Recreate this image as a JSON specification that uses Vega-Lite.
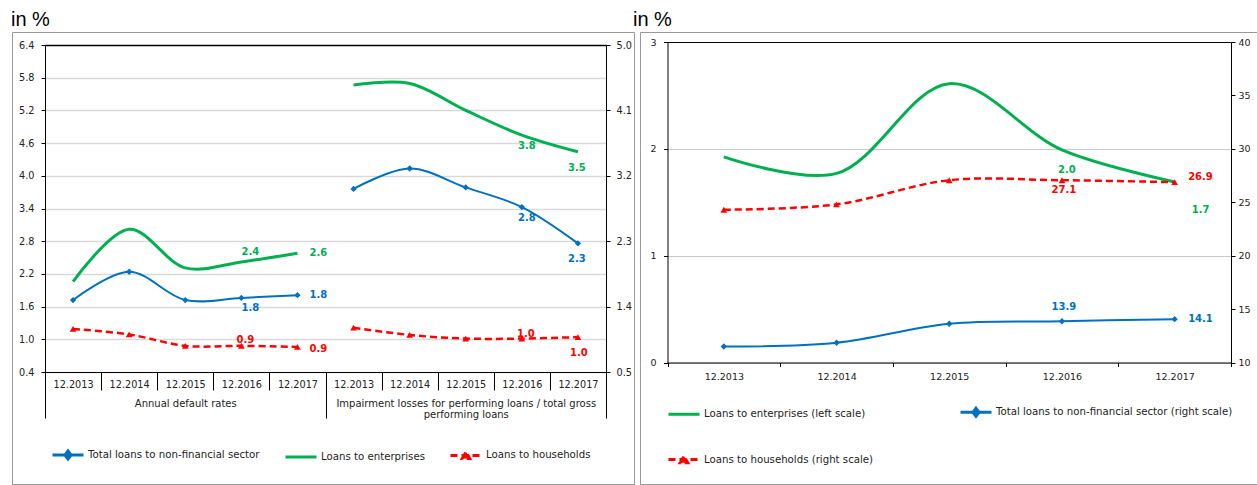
{
  "$schema": "https://vega.github.io/schema/vega-lite/v6.json",
  "background": "white",
  "padding": {"left": 10, "top": 9, "right": 0, "bottom": 0},
  "bounds": "flush",
  "spacing": 6,
  "datasets": {
    "left": [
      {"cat": "A 12.2013", "grp": "A", "series": "Total loans to non-financial sector", "value": 1.72},
      {"cat": "A 12.2014", "grp": "A", "series": "Total loans to non-financial sector", "value": 2.24},
      {"cat": "A 12.2015", "grp": "A", "series": "Total loans to non-financial sector", "value": 1.72},
      {"cat": "A 12.2016", "grp": "A", "series": "Total loans to non-financial sector", "value": 1.76},
      {"cat": "A 12.2017", "grp": "A", "series": "Total loans to non-financial sector", "value": 1.81},
      {"cat": "A 12.2013", "grp": "A", "series": "Loans to enterprises", "value": 2.06},
      {"cat": "A 12.2014", "grp": "A", "series": "Loans to enterprises", "value": 3.02},
      {"cat": "A 12.2015", "grp": "A", "series": "Loans to enterprises", "value": 2.31},
      {"cat": "A 12.2016", "grp": "A", "series": "Loans to enterprises", "value": 2.42},
      {"cat": "A 12.2017", "grp": "A", "series": "Loans to enterprises", "value": 2.58},
      {"cat": "A 12.2013", "grp": "A", "series": "Loans to households", "value": 1.19},
      {"cat": "A 12.2014", "grp": "A", "series": "Loans to households", "value": 1.09},
      {"cat": "A 12.2015", "grp": "A", "series": "Loans to households", "value": 0.88},
      {"cat": "A 12.2016", "grp": "A", "series": "Loans to households", "value": 0.88},
      {"cat": "A 12.2017", "grp": "A", "series": "Loans to households", "value": 0.86},
      {"cat": "I 12.2013", "grp": "I", "series": "Total loans to non-financial sector", "value": 3.02},
      {"cat": "I 12.2014", "grp": "I", "series": "Total loans to non-financial sector", "value": 3.30},
      {"cat": "I 12.2015", "grp": "I", "series": "Total loans to non-financial sector", "value": 3.04},
      {"cat": "I 12.2016", "grp": "I", "series": "Total loans to non-financial sector", "value": 2.77},
      {"cat": "I 12.2017", "grp": "I", "series": "Total loans to non-financial sector", "value": 2.27},
      {"cat": "I 12.2013", "grp": "I", "series": "Loans to enterprises", "value": 4.45},
      {"cat": "I 12.2014", "grp": "I", "series": "Loans to enterprises", "value": 4.47},
      {"cat": "I 12.2015", "grp": "I", "series": "Loans to enterprises", "value": 4.10},
      {"cat": "I 12.2016", "grp": "I", "series": "Loans to enterprises", "value": 3.76},
      {"cat": "I 12.2017", "grp": "I", "series": "Loans to enterprises", "value": 3.53},
      {"cat": "I 12.2013", "grp": "I", "series": "Loans to households", "value": 1.11},
      {"cat": "I 12.2014", "grp": "I", "series": "Loans to households", "value": 1.01},
      {"cat": "I 12.2015", "grp": "I", "series": "Loans to households", "value": 0.96},
      {"cat": "I 12.2016", "grp": "I", "series": "Loans to households", "value": 0.96},
      {"cat": "I 12.2017", "grp": "I", "series": "Loans to households", "value": 0.98}
    ],
    "groups": [
      {"grp": "Annual default rates"},
      {"grp": "Impairment losses for performing loans / total gross performing loans"}
    ],
    "right": [
      {"cat": "12.2013", "series": "Loans to enterprises (left scale)", "value": 1.925},
      {"cat": "12.2014", "series": "Loans to enterprises (left scale)", "value": 1.77},
      {"cat": "12.2015", "series": "Loans to enterprises (left scale)", "value": 2.61},
      {"cat": "12.2016", "series": "Loans to enterprises (left scale)", "value": 1.99},
      {"cat": "12.2017", "series": "Loans to enterprises (left scale)", "value": 1.69},
      {"cat": "12.2013", "series": "Total loans to non-financial sector (right scale)", "value": 11.5},
      {"cat": "12.2014", "series": "Total loans to non-financial sector (right scale)", "value": 11.85},
      {"cat": "12.2015", "series": "Total loans to non-financial sector (right scale)", "value": 13.63},
      {"cat": "12.2016", "series": "Total loans to non-financial sector (right scale)", "value": 13.86},
      {"cat": "12.2017", "series": "Total loans to non-financial sector (right scale)", "value": 14.06},
      {"cat": "12.2013", "series": "Loans to households (right scale)", "value": 24.3},
      {"cat": "12.2014", "series": "Loans to households (right scale)", "value": 24.8},
      {"cat": "12.2015", "series": "Loans to households (right scale)", "value": 27.06},
      {"cat": "12.2016", "series": "Loans to households (right scale)", "value": 27.06},
      {"cat": "12.2017", "series": "Loans to households (right scale)", "value": 26.88}
    ]
  },
  "hconcat": [
    {
      "width": 622,
      "height": 452,
      "title": {"text": "in %", "anchor": "start", "frame": "group", "fontSize": 20, "font": "Liberation Sans", "fontWeight": "normal", "color": "#000", "baseline": "alphabetic", "offset": -14, "dx": -1},
      "data": {"name": "left"},
      "resolve": {"scale": {"x": "independent", "y": "independent"}, "axis": {"x": "independent", "y": "independent"}},
      "layer": [
        {
          "transform": [{"filter": "datum.grp == 'A'"}],
          "encoding": {
            "x": {"field": "cat", "type": "nominal",
              "scale": {"type": "band", "domain": ["A 12.2013", "A 12.2014", "A 12.2015", "A 12.2016", "A 12.2017", "I 12.2013", "I 12.2014", "I 12.2015", "I 12.2016", "I 12.2017"], "range": [33, 594], "paddingInner": 0, "paddingOuter": 0},
              "axis": {"orient": "bottom", "offset": -112, "title": null, "tickBand": "extent", "tickSize": 18, "labelPadding": -10.2, "labelExpr": "slice(datum.label, 2)", "labelAngle": 0, "labelFontSize": 9.7, "grid": false}},
            "y": {"field": "value", "type": "quantitative",
              "scale": {"domain": [0.4, 6.4], "range": [340, 13], "nice": false, "zero": false},
              "axis": {"orient": "left", "offset": -33, "title": null, "values": [0.4, 1, 1.6, 2.2, 2.8, 3.4, 4, 4.6, 5.2, 5.8, 6.4], "format": ".1f", "tickSize": 4, "labelPadding": 7, "labelFontSize": 9.7, "grid": true, "gridWidth": 1.5, "gridColor": {"condition": {"test": "datum.value > 6.3", "value": "#000"}, "value": "#d9d9d9"}}}
          },
          "layer": [
            {"transform": [{"filter": "datum.series == 'Loans to enterprises'"}], "mark": {"type": "line", "interpolate": "catmull-rom", "color": "#00B050", "strokeWidth": 3}},
            {"transform": [{"filter": "datum.series == 'Total loans to non-financial sector'"}], "mark": {"type": "line", "interpolate": "catmull-rom", "color": "#0070C0", "strokeWidth": 2}},
            {"transform": [{"filter": "datum.series == 'Loans to households'"}], "mark": {"type": "line", "interpolate": "catmull-rom", "color": "#FF0000", "strokeWidth": 2.5, "strokeDash": [7, 4]}},
            {"transform": [{"filter": "datum.series == 'Total loans to non-financial sector'"}], "mark": {"type": "point", "shape": "diamond", "filled": true, "color": "#0070C0", "size": 40, "opacity": 1}},
            {"transform": [{"filter": "datum.series == 'Loans to households'"}], "mark": {"type": "point", "shape": "triangle-up", "filled": true, "color": "#FF0000", "size": 45, "opacity": 1}},
            {"transform": [{"filter": "datum.cat == 'A 12.2016' && datum.series == 'Loans to enterprises'"}],
              "mark": {"type": "text", "dx": 9, "dy": -10, "font": "DejaVu Sans", "fontWeight": "bold", "fontSize": 10, "color": "#00B050"},
              "encoding": {"text": {"field": "value", "type": "quantitative", "format": ".1f"}}},
            {"transform": [{"filter": "datum.cat == 'A 12.2016' && datum.series == 'Total loans to non-financial sector'"}],
              "mark": {"type": "text", "dx": 9, "dy": 10, "font": "DejaVu Sans", "fontWeight": "bold", "fontSize": 10, "color": "#0070C0"},
              "encoding": {"text": {"field": "value", "type": "quantitative", "format": ".1f"}}},
            {"transform": [{"filter": "datum.cat == 'A 12.2016' && datum.series == 'Loans to households'"}],
              "mark": {"type": "text", "dx": 4, "dy": -6, "font": "DejaVu Sans", "fontWeight": "bold", "fontSize": 10, "color": "#FF0000"},
              "encoding": {"text": {"field": "value", "type": "quantitative", "format": ".1f"}}},
            {"transform": [{"filter": "datum.cat == 'A 12.2017' && datum.series == 'Loans to enterprises'"}],
              "mark": {"type": "text", "align": "left", "dx": 12, "dy": 0, "font": "DejaVu Sans", "fontWeight": "bold", "fontSize": 10, "color": "#00B050"},
              "encoding": {"text": {"field": "value", "type": "quantitative", "format": ".1f"}}},
            {"transform": [{"filter": "datum.cat == 'A 12.2017' && datum.series == 'Total loans to non-financial sector'"}],
              "mark": {"type": "text", "align": "left", "dx": 12, "dy": 0, "font": "DejaVu Sans", "fontWeight": "bold", "fontSize": 10, "color": "#0070C0"},
              "encoding": {"text": {"field": "value", "type": "quantitative", "format": ".1f"}}},
            {"transform": [{"filter": "datum.cat == 'A 12.2017' && datum.series == 'Loans to households'"}],
              "mark": {"type": "text", "align": "left", "dx": 12, "dy": 2, "font": "DejaVu Sans", "fontWeight": "bold", "fontSize": 10, "color": "#FF0000"},
              "encoding": {"text": {"field": "value", "type": "quantitative", "format": ".1f"}}}
          ]
        },
        {
          "transform": [{"filter": "datum.grp == 'I'"}],
          "encoding": {
            "x": {"field": "cat", "type": "nominal",
              "scale": {"type": "band", "domain": ["A 12.2013", "A 12.2014", "A 12.2015", "A 12.2016", "A 12.2017", "I 12.2013", "I 12.2014", "I 12.2015", "I 12.2016", "I 12.2017"], "range": [33, 594], "paddingInner": 0, "paddingOuter": 0},
              "axis": null},
            "y": {"field": "value", "type": "quantitative",
              "scale": {"domain": [0.5, 5.0], "range": [340, 13], "nice": false, "zero": false},
              "axis": {"orient": "right", "offset": -28, "title": null, "values": [0.5, 1.4, 2.3, 3.2, 4.1, 5.0], "format": ".1f", "tickSize": 4, "labelPadding": 6, "labelFontSize": 9.7, "grid": false}}
          },
          "layer": [
            {"transform": [{"filter": "datum.series == 'Loans to enterprises'"}], "mark": {"type": "line", "interpolate": "catmull-rom", "color": "#00B050", "strokeWidth": 3}},
            {"transform": [{"filter": "datum.series == 'Total loans to non-financial sector'"}], "mark": {"type": "line", "interpolate": "catmull-rom", "color": "#0070C0", "strokeWidth": 2}},
            {"transform": [{"filter": "datum.series == 'Loans to households'"}], "mark": {"type": "line", "interpolate": "catmull-rom", "color": "#FF0000", "strokeWidth": 2.5, "strokeDash": [7, 4]}},
            {"transform": [{"filter": "datum.series == 'Total loans to non-financial sector'"}], "mark": {"type": "point", "shape": "diamond", "filled": true, "color": "#0070C0", "size": 40, "opacity": 1}},
            {"transform": [{"filter": "datum.series == 'Loans to households'"}], "mark": {"type": "point", "shape": "triangle-up", "filled": true, "color": "#FF0000", "size": 45, "opacity": 1}},
            {"transform": [{"filter": "datum.cat == 'I 12.2016' && datum.series == 'Loans to enterprises'"}],
              "mark": {"type": "text", "dx": 5, "dy": 10.5, "font": "DejaVu Sans", "fontWeight": "bold", "fontSize": 10, "color": "#00B050"},
              "encoding": {"text": {"field": "value", "type": "quantitative", "format": ".1f"}}},
            {"transform": [{"filter": "datum.cat == 'I 12.2016' && datum.series == 'Total loans to non-financial sector'"}],
              "mark": {"type": "text", "dx": 5, "dy": 10.5, "font": "DejaVu Sans", "fontWeight": "bold", "fontSize": 10, "color": "#0070C0"},
              "encoding": {"text": {"field": "value", "type": "quantitative", "format": ".1f"}}},
            {"transform": [{"filter": "datum.cat == 'I 12.2016' && datum.series == 'Loans to households'"}],
              "mark": {"type": "text", "dx": 4, "dy": -5, "font": "DejaVu Sans", "fontWeight": "bold", "fontSize": 10, "color": "#FF0000"},
              "encoding": {"text": {"field": "value", "type": "quantitative", "format": ".1f"}}},
            {"transform": [{"filter": "datum.cat == 'I 12.2017' && datum.series == 'Loans to enterprises'"}],
              "mark": {"type": "text", "dx": -1, "dy": 16, "font": "DejaVu Sans", "fontWeight": "bold", "fontSize": 10, "color": "#00B050"},
              "encoding": {"text": {"field": "value", "type": "quantitative", "format": ".1f"}}},
            {"transform": [{"filter": "datum.cat == 'I 12.2017' && datum.series == 'Total loans to non-financial sector'"}],
              "mark": {"type": "text", "dx": -1, "dy": 16, "font": "DejaVu Sans", "fontWeight": "bold", "fontSize": 10, "color": "#0070C0"},
              "encoding": {"text": {"field": "value", "type": "quantitative", "format": ".1f"}}},
            {"transform": [{"filter": "datum.cat == 'I 12.2017' && datum.series == 'Loans to households'"}],
              "mark": {"type": "text", "dx": 1, "dy": 16, "font": "DejaVu Sans", "fontWeight": "bold", "fontSize": 10, "color": "#FF0000"},
              "encoding": {"text": {"field": "value", "type": "quantitative", "format": ".1f"}}}
          ]
        },
        {
          "data": {"name": "groups"},
          "mark": {"type": "point", "opacity": 0},
          "encoding": {
            "x": {"field": "grp", "type": "nominal",
              "scale": {"type": "band", "domain": ["Annual default rates", "Impairment losses for performing loans / total gross performing loans"], "range": [33, 594], "paddingInner": 0, "paddingOuter": 0},
              "axis": {"orient": "bottom", "offset": -112, "title": null, "tickBand": "extent", "tickSize": 46, "labelPadding": -19.7, "labelAngle": 0, "labelFontSize": 10, "labelLimit": 400, "labelLineHeight": 11, "labelExpr": "datum.label == 'Impairment losses for performing loans / total gross performing loans' ? ['Impairment losses for performing loans / total gross', 'performing loans'] : datum.label", "grid": false}}
          }
        },
        {
          "transform": [{"filter": "datum.grp == 'A'"}],
          "mark": {"type": "point", "filled": true, "opacity": 0, "size": 1},
          "encoding": {
            "x": {"field": "cat", "type": "nominal",
              "scale": {"type": "band", "domain": ["A 12.2013", "A 12.2014", "A 12.2015", "A 12.2016", "A 12.2017", "I 12.2013", "I 12.2014", "I 12.2015", "I 12.2016", "I 12.2017"], "range": [33, 594], "paddingInner": 0, "paddingOuter": 0},
              "axis": null},
            "stroke": {"field": "series", "type": "nominal", "scale": {"domain": ["Total loans to non-financial sector", "Loans to enterprises", "Loans to households"], "range": ["#0070C0", "#00B050", "#FF0000"]},
              "legend": {"title": null, "orient": "none", "legendX": 39, "legendY": 405.5, "direction": "horizontal", "columns": 3, "columnPadding": 19, "symbolSize": 961, "symbolStrokeWidth": 3, "labelFont": "DejaVu Sans", "labelFontSize": 10.2, "labelColor": "#222", "labelLimit": 400, "labelOffset": 3, "symbolOpacity": 1, "padding": 0}},
            "fill": {"field": "series", "type": "nominal", "scale": {"domain": ["Total loans to non-financial sector", "Loans to enterprises", "Loans to households"], "range": ["#0070C0", "#00B050", "#FF0000"]},
              "legend": {"title": null, "orient": "none", "legendX": 39, "legendY": 405.5, "direction": "horizontal", "columns": 3, "columnPadding": 19, "symbolSize": 961, "symbolStrokeWidth": 3, "labelFont": "DejaVu Sans", "labelFontSize": 10.2, "labelColor": "#222", "labelLimit": 400, "labelOffset": 3, "symbolOpacity": 1, "padding": 0}},
            "shape": {"field": "series", "type": "nominal", "scale": {"domain": ["Total loans to non-financial sector", "Loans to enterprises", "Loans to households"], "range": ["M-1,0L1,0M0,-0.26L0.2,0L0,0.26L-0.2,0Z", "M-1,0L1,0", "M-1,0L1,0M-0.24,0.2L0,-0.22L0.24,0.2Z"]},
              "legend": {"title": null, "orient": "none", "legendX": 39, "legendY": 405.5, "direction": "horizontal", "columns": 3, "columnPadding": 19, "symbolSize": 961, "symbolStrokeWidth": 3, "labelFont": "DejaVu Sans", "labelFontSize": 10.2, "labelColor": "#222", "labelLimit": 400, "labelOffset": 3, "symbolOpacity": 1, "padding": 0}},
            "strokeDash": {"field": "series", "type": "nominal", "scale": {"domain": ["Total loans to non-financial sector", "Loans to enterprises", "Loans to households"], "range": [[1, 0], [1, 0], [7, 4]]},
              "legend": {"title": null, "orient": "none", "legendX": 39, "legendY": 405.5, "direction": "horizontal", "columns": 3, "columnPadding": 19, "symbolSize": 961, "symbolStrokeWidth": 3, "labelFont": "DejaVu Sans", "labelFontSize": 10.2, "labelColor": "#222", "labelLimit": 400, "labelOffset": 3, "symbolOpacity": 1, "padding": 0}}
          }
        }
      ]
    },
    {
      "width": 617,
      "height": 452,
      "title": {"text": "in %", "anchor": "start", "frame": "group", "fontSize": 20, "font": "Liberation Sans", "fontWeight": "normal", "color": "#000", "baseline": "alphabetic", "offset": -14, "dx": -7},
      "data": {"name": "right"},
      "resolve": {"scale": {"y": "independent"}, "axis": {"y": "independent"}},
      "encoding": {
        "x": {"field": "cat", "type": "nominal",
          "scale": {"type": "band", "domain": ["12.2013", "12.2014", "12.2015", "12.2016", "12.2017"], "range": [27.5, 591], "paddingInner": 0, "paddingOuter": 0},
          "axis": {"orient": "bottom", "offset": -121.5, "title": null, "tickBand": "extent", "tickSize": 4, "labelPadding": 4.9, "labelAngle": 0, "labelFontSize": 9.5, "grid": false}}
      },
      "layer": [
        {
          "transform": [{"filter": "datum.series == 'Loans to enterprises (left scale)'"}],
          "encoding": {
            "y": {"field": "value", "type": "quantitative",
              "scale": {"domain": [0, 3], "range": [330.5, 10], "nice": false, "zero": false},
              "axis": {"orient": "left", "offset": -27.5, "title": null, "values": [0, 1, 2, 3], "format": "d", "tickSize": 4, "labelPadding": 7.5, "labelFontSize": 9.5, "grid": true, "gridWidth": 1, "gridColor": {"condition": {"test": "datum.value > 2.9", "value": "#000"}, "value": "#c8c8c8"}}}
          },
          "layer": [
            {"mark": {"type": "line", "interpolate": "catmull-rom", "color": "#00B050", "strokeWidth": 3}},
            {"transform": [{"filter": "datum.cat == '12.2016'"}],
              "mark": {"type": "text", "dx": 5, "dy": 20, "font": "DejaVu Sans", "fontWeight": "bold", "fontSize": 10, "color": "#00B050"},
              "encoding": {"text": {"field": "value", "type": "quantitative", "format": ".1f"}}},
            {"transform": [{"filter": "datum.cat == '12.2017'"}],
              "mark": {"type": "text", "dx": 26, "dy": 28, "font": "DejaVu Sans", "fontWeight": "bold", "fontSize": 10, "color": "#00B050"},
              "encoding": {"text": {"field": "value", "type": "quantitative", "format": ".1f"}}}
          ]
        },
        {
          "transform": [{"filter": "datum.series != 'Loans to enterprises (left scale)'"}],
          "encoding": {
            "y": {"field": "value", "type": "quantitative",
              "scale": {"domain": [10, 40], "range": [330.5, 10], "nice": false, "zero": false},
              "axis": {"orient": "right", "offset": -26, "title": null, "values": [10, 15, 20, 25, 30, 35, 40], "format": "d", "tickSize": 4, "labelPadding": 3, "labelFontSize": 9.5, "grid": false}}
          },
          "layer": [
            {"transform": [{"filter": "datum.series == 'Total loans to non-financial sector (right scale)'"}], "mark": {"type": "line", "interpolate": "catmull-rom", "color": "#0070C0", "strokeWidth": 2}},
            {"transform": [{"filter": "datum.series == 'Loans to households (right scale)'"}], "mark": {"type": "line", "interpolate": "catmull-rom", "color": "#FF0000", "strokeWidth": 2.5, "strokeDash": [7, 4]}},
            {"transform": [{"filter": "datum.series == 'Total loans to non-financial sector (right scale)'"}], "mark": {"type": "point", "shape": "diamond", "filled": true, "color": "#0070C0", "size": 40, "opacity": 1}},
            {"transform": [{"filter": "datum.series == 'Loans to households (right scale)'"}], "mark": {"type": "point", "shape": "triangle-up", "filled": true, "color": "#FF0000", "size": 45, "opacity": 1}},
            {"transform": [{"filter": "datum.cat == '12.2016' && datum.series == 'Loans to households (right scale)'"}],
              "mark": {"type": "text", "dx": 2, "dy": 10, "font": "DejaVu Sans", "fontWeight": "bold", "fontSize": 10, "color": "#FF0000"},
              "encoding": {"text": {"field": "value", "type": "quantitative", "format": ".1f"}}},
            {"transform": [{"filter": "datum.cat == '12.2016' && datum.series == 'Total loans to non-financial sector (right scale)'"}],
              "mark": {"type": "text", "dx": 2, "dy": -14, "font": "DejaVu Sans", "fontWeight": "bold", "fontSize": 10, "color": "#0070C0"},
              "encoding": {"text": {"field": "value", "type": "quantitative", "format": ".1f"}}},
            {"transform": [{"filter": "datum.cat == '12.2017' && datum.series == 'Loans to households (right scale)'"}],
              "mark": {"type": "text", "align": "left", "dx": 13.5, "dy": -5, "font": "DejaVu Sans", "fontWeight": "bold", "fontSize": 10, "color": "#FF0000"},
              "encoding": {"text": {"field": "value", "type": "quantitative", "format": ".1f"}}},
            {"transform": [{"filter": "datum.cat == '12.2017' && datum.series == 'Total loans to non-financial sector (right scale)'"}],
              "mark": {"type": "text", "align": "left", "dx": 13.5, "dy": 0, "font": "DejaVu Sans", "fontWeight": "bold", "fontSize": 10, "color": "#0070C0"},
              "encoding": {"text": {"field": "value", "type": "quantitative", "format": ".1f"}}}
          ]
        },
        {
          "mark": {"type": "point", "filled": true, "opacity": 0, "size": 1},
          "encoding": {
            "stroke": {"field": "series", "type": "nominal", "scale": {"domain": ["Loans to enterprises (left scale)", "Total loans to non-financial sector (right scale)", "Loans to households (right scale)"], "range": ["#00B050", "#0070C0", "#FF0000"]},
              "legend": {"title": null, "orient": "none", "legendX": 27, "legendY": 362.8, "direction": "horizontal", "columns": 2, "columnPadding": 80, "rowPadding": 19.8, "symbolSize": 961, "symbolStrokeWidth": 3, "labelFont": "DejaVu Sans", "labelFontSize": 10.2, "labelColor": "#222", "labelLimit": 400, "labelOffset": 3, "symbolOpacity": 1, "padding": 0}},
            "fill": {"field": "series", "type": "nominal", "scale": {"domain": ["Loans to enterprises (left scale)", "Total loans to non-financial sector (right scale)", "Loans to households (right scale)"], "range": ["#00B050", "#0070C0", "#FF0000"]},
              "legend": {"title": null, "orient": "none", "legendX": 27, "legendY": 362.8, "direction": "horizontal", "columns": 2, "columnPadding": 80, "rowPadding": 19.8, "symbolSize": 961, "symbolStrokeWidth": 3, "labelFont": "DejaVu Sans", "labelFontSize": 10.2, "labelColor": "#222", "labelLimit": 400, "labelOffset": 3, "symbolOpacity": 1, "padding": 0}},
            "shape": {"field": "series", "type": "nominal", "scale": {"domain": ["Loans to enterprises (left scale)", "Total loans to non-financial sector (right scale)", "Loans to households (right scale)"], "range": ["M-1,0L1,0", "M-1,0L1,0M0,-0.26L0.2,0L0,0.26L-0.2,0Z", "M-1,0L1,0M-0.24,0.2L0,-0.22L0.24,0.2Z"]},
              "legend": {"title": null, "orient": "none", "legendX": 27, "legendY": 362.8, "direction": "horizontal", "columns": 2, "columnPadding": 80, "rowPadding": 19.8, "symbolSize": 961, "symbolStrokeWidth": 3, "labelFont": "DejaVu Sans", "labelFontSize": 10.2, "labelColor": "#222", "labelLimit": 400, "labelOffset": 3, "symbolOpacity": 1, "padding": 0}},
            "strokeDash": {"field": "series", "type": "nominal", "scale": {"domain": ["Loans to enterprises (left scale)", "Total loans to non-financial sector (right scale)", "Loans to households (right scale)"], "range": [[1, 0], [1, 0], [7, 4]]},
              "legend": {"title": null, "orient": "none", "legendX": 27, "legendY": 362.8, "direction": "horizontal", "columns": 2, "columnPadding": 80, "rowPadding": 19.8, "symbolSize": 961, "symbolStrokeWidth": 3, "labelFont": "DejaVu Sans", "labelFontSize": 10.2, "labelColor": "#222", "labelLimit": 400, "labelOffset": 3, "symbolOpacity": 1, "padding": 0}}
          }
        }
      ]
    }
  ],
  "resolve": {
    "scale": {"stroke": "independent", "fill": "independent", "shape": "independent", "strokeDash": "independent", "color": "independent"},
    "legend": {"stroke": "independent", "fill": "independent", "shape": "independent", "strokeDash": "independent", "color": "independent"}
  },
  "config": {
    "view": {"stroke": "#999999", "strokeWidth": 1},
    "axis": {"labelFont": "DejaVu Sans", "labelColor": "#222222", "domainColor": "#000000", "tickColor": "#000000", "domainWidth": 1, "tickWidth": 1, "labelOverlap": false, "labelFlush": false}
  }
}
